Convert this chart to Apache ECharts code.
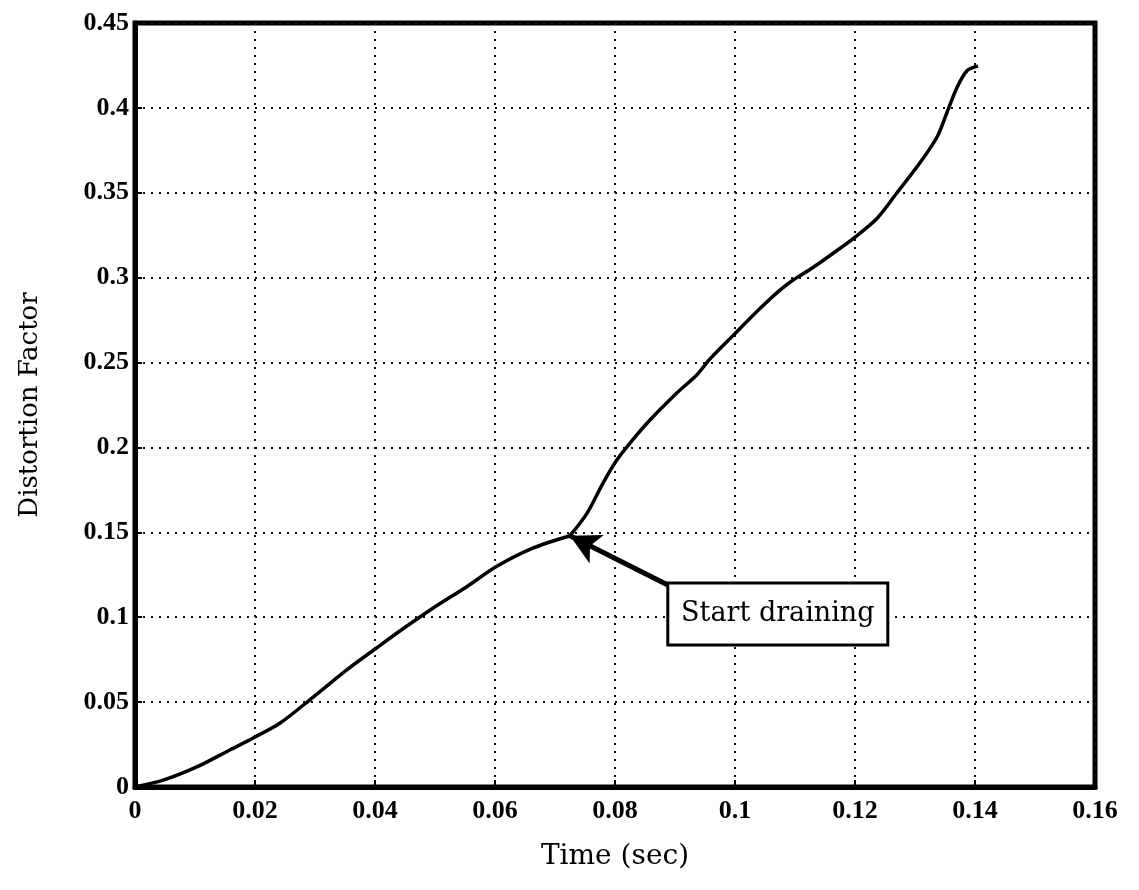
<!DOCTYPE html>
<html>
<head>
<meta charset="utf-8">
<script src="https://cdn.jsdelivr.net/npm/echarts@6/dist/echarts.min.js"></script>
<style>
  html, body { margin: 0; padding: 0; background: #fff; }
  #chart { width: 1139px; height: 890px; }
</style>
</head>
<body>
<div id="chart"></div>
<script>
// Distortion factor over time; draining starts at the kink
const timeSec = [0, 0.0047, 0.0103, 0.0158, 0.0197, 0.0242, 0.0297, 0.0353, 0.0403, 0.0442,
  0.0497, 0.0553, 0.0603, 0.0663, 0.0725, 0.0753, 0.078, 0.0803, 0.0825, 0.0858,
  0.0903, 0.0937, 0.0958, 0.0997, 0.1042, 0.1075, 0.1097, 0.113, 0.117, 0.1197,
  0.1237, 0.127, 0.1308, 0.1337, 0.1353, 0.137, 0.1387, 0.1405];
const distortion = [0, 0.004, 0.0118, 0.0218, 0.0289, 0.0377, 0.053, 0.069, 0.082, 0.092,
  0.1054, 0.118, 0.130, 0.1407, 0.148, 0.161, 0.179, 0.1926, 0.2026, 0.216,
  0.232, 0.243, 0.252, 0.266, 0.282, 0.2927, 0.2986, 0.306, 0.316, 0.323,
  0.335, 0.350, 0.3675, 0.383, 0.397, 0.412, 0.422, 0.4246];

const xTicks = ['0', '0.02', '0.04', '0.06', '0.08', '0.1', '0.12', '0.14', '0.16'];
const yTicks = ['0', '0.05', '0.1', '0.15', '0.2', '0.25', '0.3', '0.35', '0.4', '0.45'];

// annotation: arrow from the label box to the start-of-draining point
const drainPoint = [0.0725, 0.148];
const labelAnchor = [0.0888, 0.119];
const labelText = 'Start draining';

const chart = echarts.init(document.getElementById('chart'));
const tickFont = 'Liberation Serif';
const wideSerif = '"DejaVu Serif", serif';

const gridLine = { show: true, lineStyle: { color: '#111', width: 2, type: [2, 6] } };

// the curve is drawn as two smooth pieces meeting at the kink
const points = timeSec.map((t, i) => [t, distortion[i]]);
const kink = timeSec.indexOf(drainPoint[0]);
const before = points.slice(0, kink + 1);
const after = points.slice(kink);
const curveStyle = { color: '#000', width: 3.5 };

chart.setOption({
  backgroundColor: '#fff',
  animation: false,
  grid: { left: 135, right: 44, top: 23, bottom: 103, show: true,
          borderColor: '#000', borderWidth: 5, backgroundColor: 'transparent' },
  xAxis: {
    type: 'value', min: 0, max: 0.16, interval: 0.02,
    name: 'Time (sec)', nameLocation: 'middle', nameGap: 56,
    nameTextStyle: { fontFamily: wideSerif, fontSize: 28, color: '#000' },
    axisLine: { show: true, lineStyle: { color: '#000', width: 5 } },
    axisTick: { show: true, inside: true, length: 7, lineStyle: { color: '#000', width: 2 } },
    axisLabel: { fontFamily: tickFont, fontSize: 26, fontWeight: 'bold', color: '#000', margin: 11,
      formatter: (v, i) => xTicks[i] },
    splitLine: gridLine
  },
  yAxis: {
    type: 'value', min: 0, max: 0.45, interval: 0.05,
    name: 'Distortion Factor', nameLocation: 'middle', nameGap: 92,
    nameTextStyle: { fontFamily: wideSerif, fontSize: 26, color: '#000' },
    axisLine: { show: true, lineStyle: { color: '#000', width: 5 } },
    axisTick: { show: true, inside: true, length: 7, lineStyle: { color: '#000', width: 2 } },
    axisLabel: { fontFamily: tickFont, fontSize: 26, fontWeight: 'bold', color: '#000', margin: 6,
      formatter: (v, i) => yTicks[i] },
    splitLine: gridLine
  },
  series: [{
    type: 'line',
    data: before,
    smooth: 0.3,
    showSymbol: false,
    lineStyle: curveStyle,
    markLine: {
      silent: true,
      symbol: ['none', 'arrow'],
      symbolSize: [24, 30],
      label: { show: false },
      lineStyle: { color: '#000', width: 5, type: 'solid' },
      data: [[{ coord: labelAnchor }, { coord: drainPoint }]]
    }
  }, {
    type: 'line',
    data: after,
    smooth: 0.3,
    showSymbol: false,
    lineStyle: curveStyle
  }]
});

// label box placed from the anchor's data coordinate
const p = chart.convertToPixel({ gridIndex: 0 }, labelAnchor);
chart.setOption({
  graphic: [{
    type: 'group', x: p[0], y: p[1] - 2,
    children: [
      { type: 'rect', shape: { x: 0, y: 0, width: 220, height: 62 },
        style: { fill: '#fff', stroke: '#000', lineWidth: 3 } },
      { type: 'text', x: 110, y: 31,
        style: { text: labelText, fontFamily: wideSerif, fontSize: 27, fill: '#000',
                 align: 'center', verticalAlign: 'middle' } }
    ]
  }]
});
</script>
</body>
</html>
